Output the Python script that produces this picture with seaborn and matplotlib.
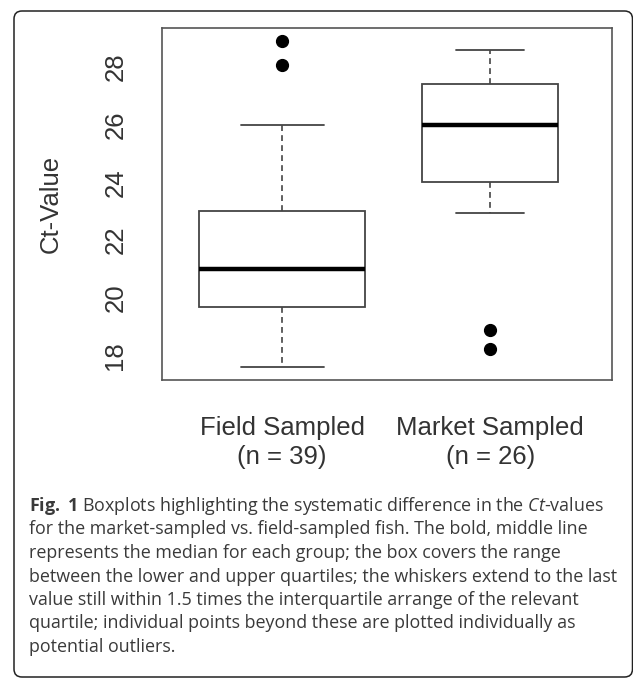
import numpy as np
import pandas as pd
import seaborn as sns
import matplotlib.pyplot as plt
from matplotlib.patches import FancyBboxPatch

# Ct-values per group (quartiles, whiskers, outliers)
field_ct = [17.62, 18.1, 18.4, 18.7, 18.9, 19.0, 19.2, 19.3, 19.5, 19.6,
            19.8, 20.0, 20.2, 20.3, 20.5, 20.6, 20.7, 20.8, 20.9, 21.0,
            21.2, 21.4, 21.6, 21.8, 22.0, 22.3, 22.5, 22.7, 22.9, 23.1,
            23.4, 23.7, 24.1, 24.5, 24.9, 25.4, 26.0, 28.05, 28.9]
market_ct = [18.22, 18.9, 22.94, 23.3, 23.6, 23.85, 24.0, 24.1, 24.5, 24.9,
             25.3, 25.6, 25.9, 26.04, 26.3, 26.6, 26.9, 27.1, 27.35, 27.41,
             27.7, 27.9, 28.1, 28.25, 28.4, 28.58]

groups = ["Field Sampled", "Market Sampled"]
group_labels = ["Field Sampled\n(n = 39)", "Market Sampled\n(n = 26)"]
y_ticks = [18, 20, 22, 24, 26, 28]
y_label = "Ct-Value"

caption_lines = [
    r"$\mathbf{Fig.}$ $\mathbf{1}$ Boxplots highlighting the systematic difference in the $\mathit{Ct}$-values",
    "for the market-sampled vs. field-sampled fish. The bold, middle line",
    "represents the median for each group; the box covers the range",
    "between the lower and upper quartiles; the whiskers extend to the last",
    "value still within 1.5 times the interquartile arrange of the relevant",
    "quartile; individual points beyond these are plotted individually as",
    "potential outliers.",
]

df = pd.DataFrame({
    "group": [groups[0]] * len(field_ct) + [groups[1]] * len(market_ct),
    "ct": field_ct + market_ct,
})

sns.set_style("white")
plt.rcParams["font.family"] = ["Liberation Sans", "DejaVu Sans"]
plt.rcParams["mathtext.fontset"] = "custom"
plt.rcParams["mathtext.rm"] = "Open Sans"
plt.rcParams["mathtext.it"] = "Open Sans:italic"
plt.rcParams["mathtext.bf"] = "Open Sans:bold"

W, H, DPI = 633, 678, 100
fig = plt.figure(figsize=(W / DPI, H / DPI), dpi=DPI)
ax = fig.add_axes([162 / W, 1 - 380 / H, 450 / W, 352 / H])

line_col = "#444444"
n_max = df.groupby("group").size().max()
for g in groups:
    sub = df[df["group"] == g]
    # R-style varwidth: box width proportional to sqrt(n)
    sns.boxplot(
        data=sub, x="group", y="ct", order=groups, ax=ax,
        width=0.8 * np.sqrt(len(sub) / n_max), whis=1.5,
        color="white", linecolor=line_col, linewidth=1.3,
        medianprops={"color": "black", "linewidth": 3.2},
        whiskerprops={"color": line_col, "linewidth": 1.2, "linestyle": (0, (3.5, 2.5))},
        capprops={"color": line_col, "linewidth": 1.3},
        flierprops={"marker": "o", "markerfacecolor": "black",
                    "markeredgecolor": "black", "markersize": 8.5},
    )

ax.set_xlim(-0.578, 1.586)
ax.set_ylim(17.16, 29.34)
ax.set_yticks(y_ticks)
ax.set_yticklabels([str(t) for t in y_ticks], rotation=90, va="center")
ax.set_xticks([0, 1])
ax.set_xticklabels(group_labels, multialignment="center", linespacing=1.25)
ax.set_xlabel("")
ax.set_ylabel(y_label, fontsize=18.5, color="#333333")
ax.yaxis.set_label_coords(-0.22, 0.5)

for s in ax.spines.values():
    s.set_visible(True)
    s.set_color("#555555")
    s.set_linewidth(1.2)
ax.tick_params(axis="both", direction="out", length=12, width=1.2, color="#555555",
               labelsize=18.5, labelcolor="#333333")
ax.tick_params(axis="x", pad=14)
ax.tick_params(axis="y", pad=13)

# caption block
for i, line in enumerate(caption_lines):
    fig.text(29 / W, 1 - (511 + i * 23.5) / H, line, fontsize=12.85,
             family="Open Sans", color="#3a3a3a", ha="left", va="baseline")

# rounded frame around the figure panel
frame = FancyBboxPatch((0.14, 0.01), 6.185, 6.66,
                       boxstyle="round,pad=0,rounding_size=0.08",
                       transform=fig.dpi_scale_trans, fill=False,
                       edgecolor="#222222", linewidth=1.1, clip_on=False)
fig.patches.append(frame)

fig.savefig("out.png", dpi=DPI)
